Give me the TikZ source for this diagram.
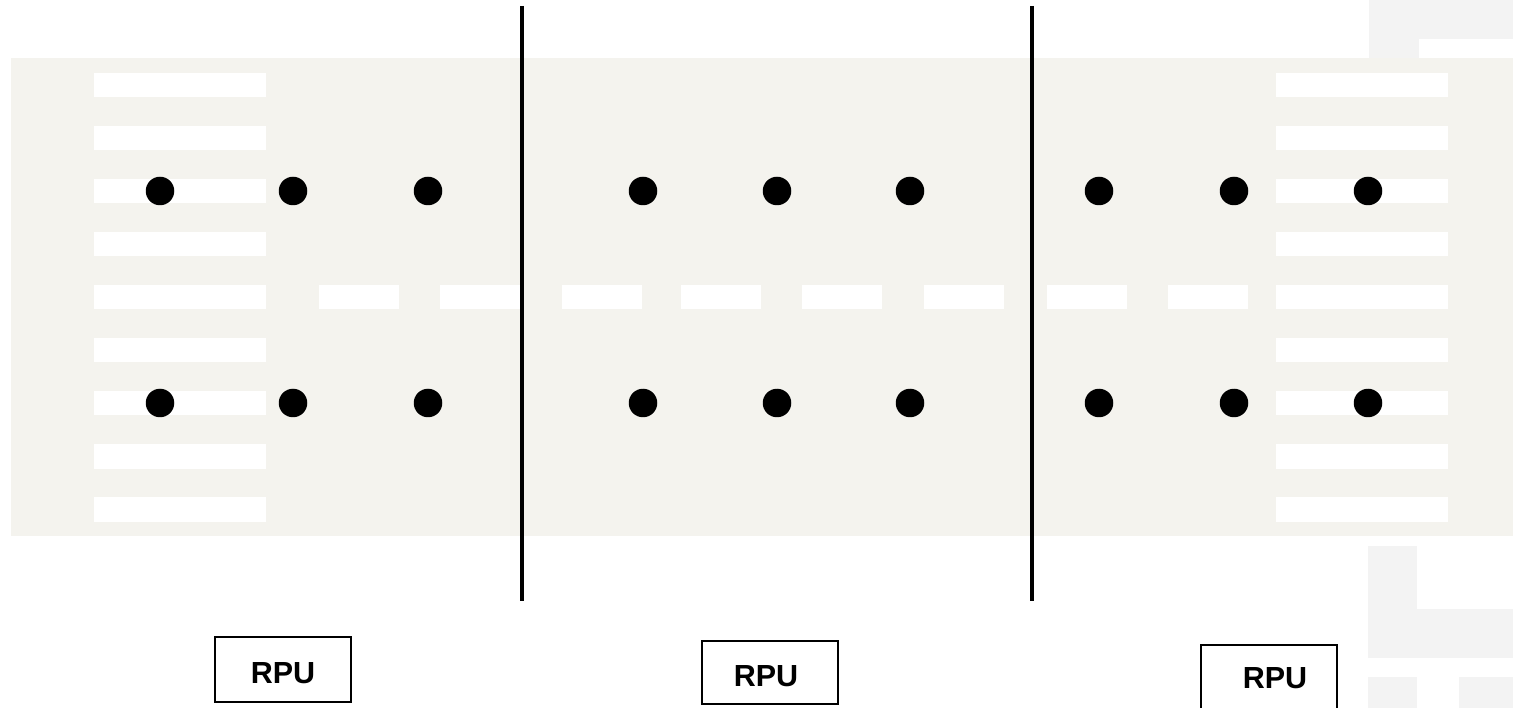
\documentclass[tikz,border=0pt]{standalone}
\usepackage{fontspec}
\setmainfont{Liberation Sans}
\definecolor{bgbeige}{HTML}{F4F3EE}
\definecolor{lightgrey}{HTML}{F3F3F3}
\begin{document}
\begin{tikzpicture}[x=1pt,y=-1pt,
  stripe/.style={fill=white,draw=none},
  dot/.style={circle,fill=black,draw=none,minimum size=28.5pt,inner sep=0pt},
  divider/.style={line width=4pt,black},
  rpubox/.style={draw=black,line width=1.4pt,fill=white,inner sep=0pt},
  rpulabel/.style={font=\bfseries\fontsize{30.5}{34}\selectfont,inner sep=0pt}]
\useasboundingbox (0,0) rectangle (1513,708);
\clip (0,0) rectangle (1513,708);
% light grey decorations at right edge
\fill[lightgrey] (1369,0) rectangle (1513,39);
\fill[lightgrey] (1369,39) rectangle (1419,58);
\fill[lightgrey] (1368,546) rectangle (1417,609);
\fill[lightgrey] (1368,609) rectangle (1513,658);
\fill[lightgrey] (1368,677) rectangle (1417,708);
\fill[lightgrey] (1459,677) rectangle (1513,708);
% background band
\fill[bgbeige] (11,58) rectangle (1513,536);
% side stripes
\foreach \i in {0,...,8}{
  \fill[stripe] (94,{73+53*\i}) rectangle (266,{97.5+53*\i});
  \fill[stripe] (1276,{73+53*\i}) rectangle (1448,{97.5+53*\i});
}
% middle dashes
\foreach \x in {319,440,562,681,802,924,1047,1168}{
  \fill[stripe] (\x,285) rectangle ({\x+80},309.5);
}
% dots
\foreach \x [count=\k] in {160,293,428,643,777,910,1099,1234,1368}{
  \node[dot] (t\k) at (\x,191) {};
  \node[dot] (b\k) at (\x,403) {};
}
% dividers
\coordinate (d1top) at (522,6);
\coordinate (d1bot) at (522,601);
\coordinate (d2top) at (1032,6);
\coordinate (d2bot) at (1032,601);
\draw[divider] (d1top) -- (d1bot);
\draw[divider] (d2top) -- (d2bot);
% RPU boxes
\node[rpubox,minimum width=136pt,minimum height=65pt] (r1) at (283,669.5) {};
\node[rpubox,minimum width=136pt,minimum height=63pt] (r2) at (770,672.5) {};
\node[rpubox,minimum width=136pt,minimum height=80pt] (r3) at (1269,685) {};
\node[rpulabel] (l1) at (283,673) {RPU};
\node[rpulabel] (l2) at (766,676) {RPU};
\node[rpulabel] (l3) at (1275,678) {RPU};
\end{tikzpicture}
\end{document}
